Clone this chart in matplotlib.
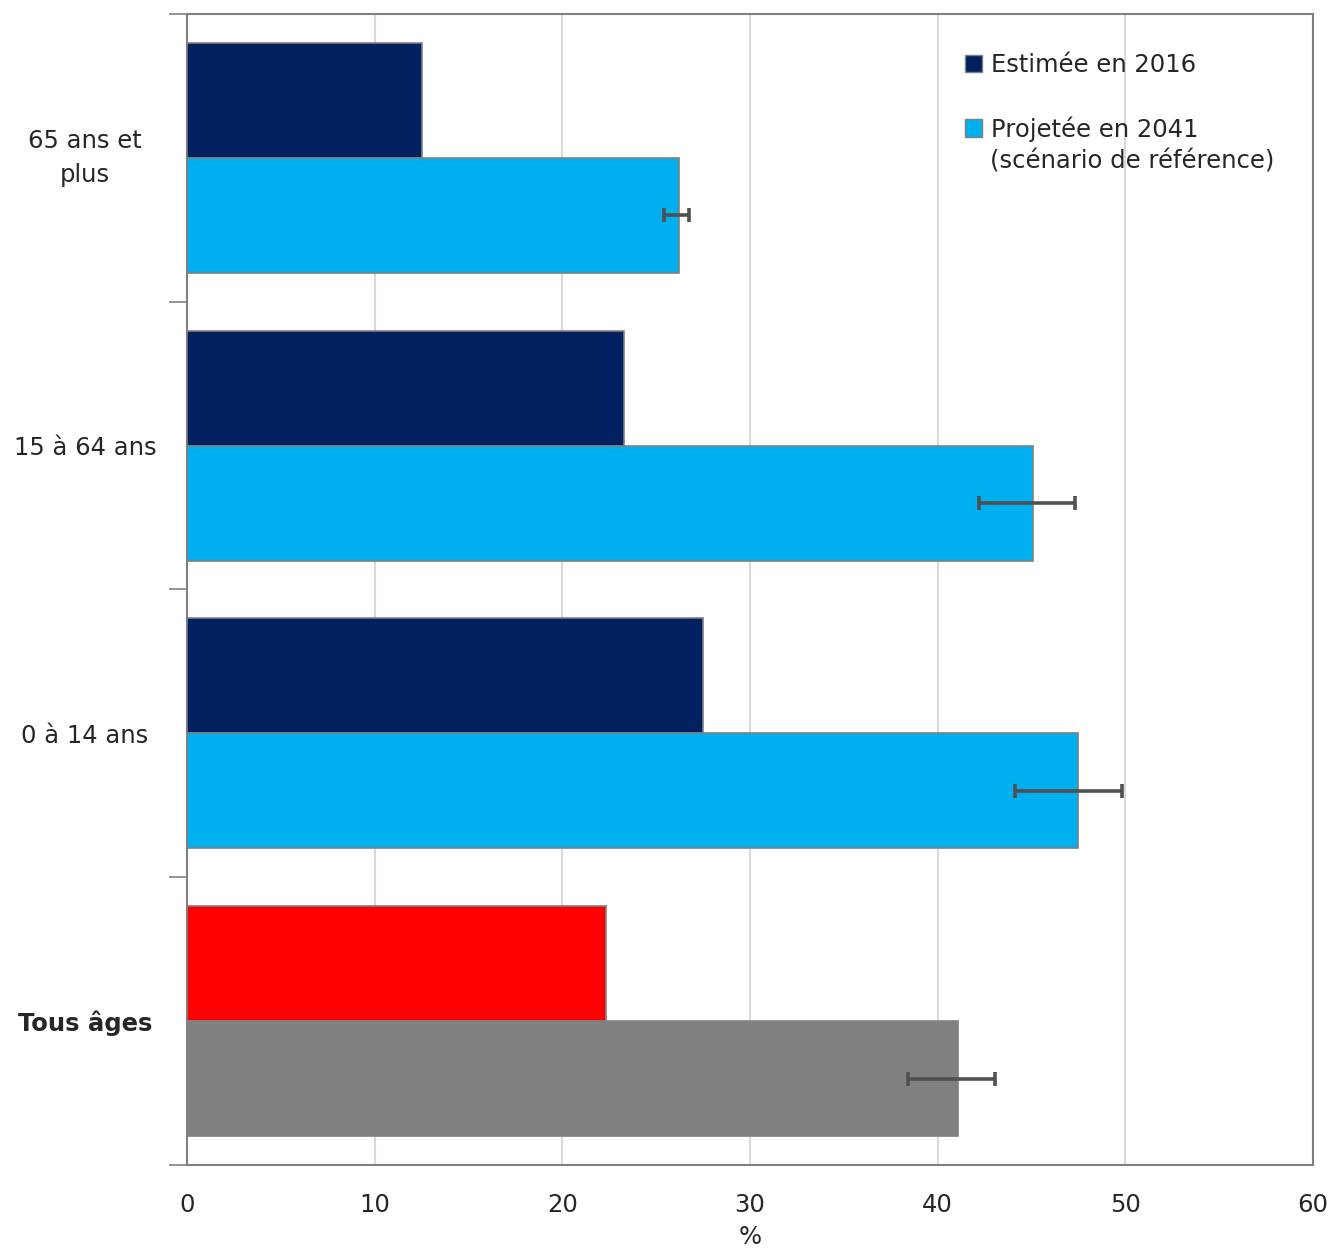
import matplotlib
matplotlib.use("Agg")
import matplotlib.pyplot as plt
from matplotlib.patches import Patch
import numpy as np

plt.rcParams['font.family'] = ['DejaVu Sans']

categories = ["65 ans et\nplus", "15 à 64 ans", "0 à 14 ans", "Tous âges"]
estimee_2016 = [12.5, 23.3, 27.5, 22.3]
projetee_2041 = [26.2, 45.1, 47.5, 41.1]
err_low = [25.4, 42.2, 44.1, 38.4]
err_high = [26.75, 47.3, 49.8, 43.05]
xticks = [0, 10, 20, 30, 40, 50, 60]

c_dark = "#002060"
c_light = "#00b0f0"
c_red = "#ff0000"
c_gray = "#808080"
txt = "#262626"
fs = 17.5

fig = plt.figure(figsize=(13.33, 12.49), dpi=100)
ax = fig.add_axes([0.1403, 0.0673, 0.8447, 0.9215])

y = np.arange(len(categories))
h = 0.4
colors1 = [c_dark, c_dark, c_dark, c_red]
colors2 = [c_light, c_light, c_light, c_gray]
ax.barh(y - h / 2, estimee_2016, height=h, color=colors1, edgecolor="#7f7f7f",
        linewidth=1.2, zorder=3)
ax.barh(y + h / 2, projetee_2041, height=h, color=colors2, edgecolor="#7f7f7f",
        linewidth=1.2, zorder=3)
mid = [(lo + hi) / 2 for lo, hi in zip(err_low, err_high)]
half = [(hi - lo) / 2 for lo, hi in zip(err_low, err_high)]
ax.errorbar(mid, y + h / 2, xerr=half, fmt="none", ecolor="#505050",
            elinewidth=2.6, capsize=5, capthick=2.6, zorder=4)

ax.set_xlim(0, 60)
ax.set_ylim(3.5, -0.5)
ax.set_xticks(xticks)
ax.set_xticklabels([str(t) for t in xticks], fontsize=fs, color=txt)
ax.tick_params(axis="x", length=0, pad=20)
ax.set_yticks(y)
ax.set_yticklabels(categories, fontsize=fs, color=txt, linespacing=1.55,
                   multialignment="center")
for lbl in ax.get_yticklabels():
    lbl.set_horizontalalignment("center")
    if "\n" in lbl.get_text():
        lbl.set_verticalalignment("center")
    if lbl.get_text() == "Tous âges":
        lbl.set_fontweight("bold")
ax.tick_params(axis="y", which="major", length=0, pad=73.5)
ax.set_yticks(np.arange(-0.5, 4.0, 1.0), minor=True)
ax.tick_params(axis="y", which="minor", length=13, width=1.2, color="#808080")

ax.grid(axis="x", color="#d9d9d9", linewidth=1.5, zorder=0)
ax.set_axisbelow(True)
for s in ax.spines.values():
    s.set_color("#808080")
    s.set_linewidth(1.5)
ax.set_xlabel("%", fontsize=fs, color=txt, labelpad=6)

handles = [Patch(facecolor=c_dark, edgecolor="#7f7f7f"),
           Patch(facecolor=c_light, edgecolor="#7f7f7f")]
labels = ["Estimée en 2016", "Projetée en 2041"]
leg = ax.legend(handles, labels, loc="upper left", bbox_to_anchor=(0.691, 0.966),
                frameon=False, fontsize=fs, handlelength=0.7, handleheight=0.7,
                handletextpad=0.35, labelspacing=1.6, borderaxespad=0, borderpad=0)
for t in leg.get_texts():
    t.set_color(txt)
ax.text(0.713, 0.872, "(scénario de référence)", transform=ax.transAxes,
        fontsize=fs, color=txt, ha="left", va="center")

fig.savefig("out.png", dpi=100, facecolor="white")
